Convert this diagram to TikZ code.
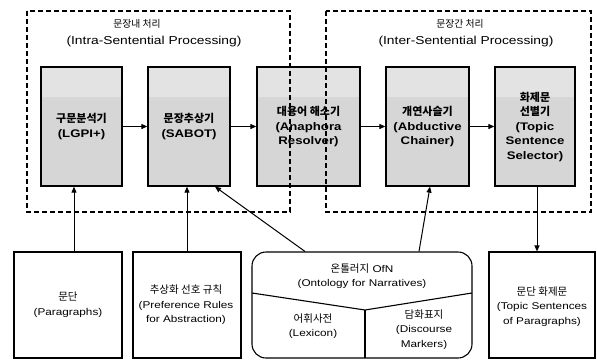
\documentclass[tikz,border=0pt]{standalone}
\usepackage{fontspec}
\setmainfont{Liberation Sans}[FakeStretch=1.2]
\newfontfamily\kr{Noto Sans CJK KR}
\usetikzlibrary{arrows.meta,calc}
\newcommand\ko[1]{{\kr\fontsize{10.5}{14.5}\selectfont #1}}
\begin{document}
\begin{tikzpicture}[x=1pt,y=-1pt,
  proc/.style={draw=black,line width=1.3pt,fill=gray!32,minimum height=119pt,inner sep=0pt,align=center,
    font=\bfseries\fontsize{11}{14.5}\selectfont,
    path picture={\fill[gray!22] (path picture bounding box.north west) rectangle ([yshift=-30pt]path picture bounding box.north east);}},
  src/.style={draw=black,line width=1.1pt,inner sep=0pt,minimum height=106pt},
  lbl/.style={align=center,inner sep=0pt,font=\fontsize{9.8}{14.5}\selectfont},
  ttlK/.style={inner sep=0pt,font=\kr\fontsize{9.8}{11}\selectfont},
  ttlE/.style={inner sep=0pt,font=\fontsize{11.5}{14}\selectfont},
  grp/.style={draw=black,line width=1.1pt,dash pattern=on 5pt off 3pt},
  arr/.style={line width=1pt,-{Triangle[length=6pt,width=5pt]}},
  sep/.style={line width=1.1pt}
]
\useasboundingbox (0,0) rectangle (597,360);

% processing boxes
\node[proc,minimum width=81pt] (p1) at (81.5,126.5) {{\kr 구문분석기}\\(LGPI+)};
\node[proc,minimum width=82pt] (p2) at (189,126.5) {{\kr 문장추상기}\\(SABOT)};
\node[proc,minimum width=103pt] (p3) at (308.5,126.5) {{\kr 대용어 해소기}\\(Anaphora\\Resolver)};
\node[proc,minimum width=83pt] (p4) at (427.5,126.5) {{\kr 개연사슬기}\\(Abductive\\Chainer)};
\node[proc,minimum width=80pt] (p5) at (535,126.5) {{\kr 화제문}\\{\kr 선별기}\\(Topic\\Sentence\\Selector)};

% group frames
\draw[grp] (27,11) rectangle (290,212);
\draw[grp] (326,11) rectangle (591,212);

% titles
\node[ttlK] (t1k) at (137,24) {문장내 처리};
\node[ttlE] (t1e) at (154,42) {(Intra-Sentential Processing)};
\node[ttlK] (t2k) at (460,24) {문장간 처리};
\node[ttlE] (t2e) at (466,42) {(Inter-Sentential Processing)};

% bottom boxes
\node[src,minimum width=108pt] (pa) at (68,305) {};
\node[src,minimum width=108pt] (pb) at (187,305) {};
\node[src,minimum width=106pt] (pd) at (542,305) {};
\node[src,minimum width=220pt,rounded corners=14pt] (ont) at (362,305) {};
\draw[sep] (252,293) -- (365,310) -- (472,293);
\draw[sep] (365,310) -- (365,358);

\node[lbl] (ta) at (68,304.5) {\ko{문단}\\(Paragraphs)};
\node[lbl] (tb) at (186,305) {\ko{추상화 선호 규칙}\\(Preference Rules\\for Abstraction)};
\node[lbl] (td) at (542,306.5) {\ko{문단 화제문}\\(Topic Sentences\\of Paragraphs)};
\node[lbl] (to) at (362,276) {\ko{온톨러지} OfN\\(Ontology for Narratives)};
\node[lbl] (tl) at (313,326) {\ko{어휘사전}\\(Lexicon)};
\node[lbl] (tm) at (424,329.5) {\ko{담화표지}\\(Discourse\\Markers)};

% connectors
\draw[arr] (p1) -- (p2);
\draw[arr] (p2) -- (p3);
\draw[arr] (p3) -- (p4);
\draw[arr] (p4) -- (p5);
\draw[arr] ([xshift=6pt]pa.north) -- ([xshift=6pt]pa.north |- p1.south);
\draw[arr] (pb.north) -- (pb.north |- p2.south);
\draw[arr] ([xshift=-57pt]ont.north) -- ([xshift=26pt]p2.south);
\draw[arr] ([xshift=57pt]ont.north) -- ([xshift=2.5pt]p4.south);
\draw[arr] ([xshift=2pt]p5.south) -- ([xshift=2pt]p5.south |- pd.north);
\end{tikzpicture}
\end{document}
